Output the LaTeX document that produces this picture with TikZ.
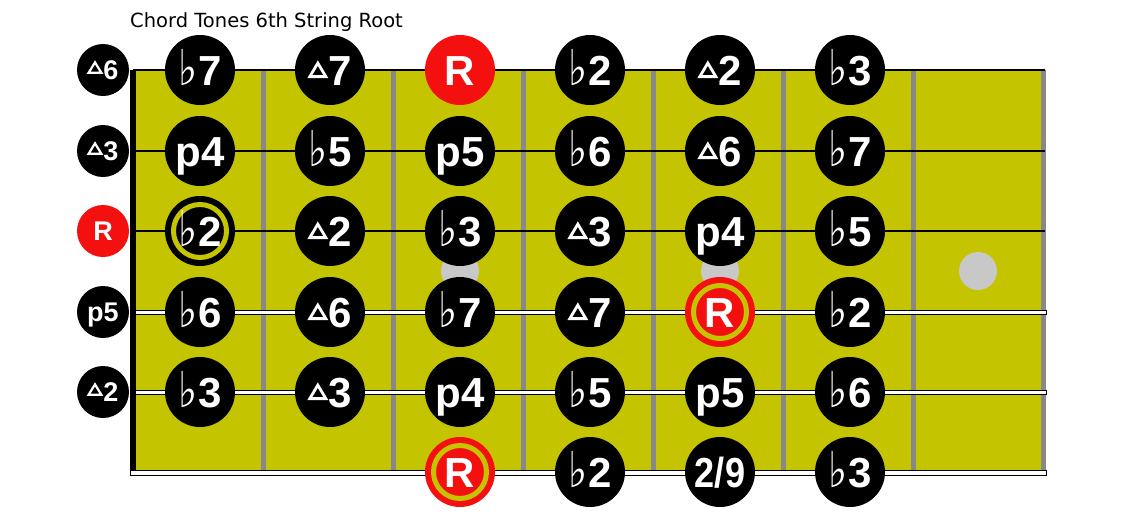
\documentclass[tikz,border=0pt]{standalone}
\usepackage{fontspec}
\setmainfont{Liberation Sans}
\newfontfamily\djv{DejaVu Sans}
\definecolor{board}{RGB}{196,196,0}
\definecolor{fretgray}{RGB}{136,136,136}
\definecolor{dotgray}{RGB}{200,200,200}
\definecolor{rootred}{RGB}{245,16,16}
\newcommand{\fl}{\smash{\scalebox{0.78}[0.95]{\djv\mdseries\fontsize{52}{52}\selectfont ♭}}\kern1pt}
\newcommand{\tri}{\raisebox{7pt}{\tikz[x=1pt,y=1pt]\draw[white,line width=2.8pt,line join=miter] (1.5,1.5)--(17.5,1.5)--(9.5,15)--cycle;}\kern1pt}
\newcommand{\stri}{\raisebox{6pt}{\tikz[x=1pt,y=1pt]\draw[white,line width=2.2pt,line join=miter] (1.2,1.2)--(13.8,1.2)--(7.5,11.5)--cycle;}\kern1pt}
\tikzset{
  tone/.style={circle, fill=black, minimum size=70pt, inner sep=0pt, text=white,
    text height=30pt, text depth=0pt,
    font=\bfseries\fontsize{42}{42}\selectfont},
  root/.style={tone, fill=rootred},
  ringtone/.style={tone, path picture={\draw[board, line width=5pt] (path picture bounding box.center) circle (26.5pt);}},
  ringroot/.style={root, path picture={\draw[board, line width=5pt] (path picture bounding box.center) circle (26.5pt);}},
  side/.style={circle, fill=black, minimum size=52pt, inner sep=0pt, text=white,
    text height=19.5pt, text depth=0pt,
    font=\bfseries\fontsize{27}{27}\selectfont},
  sideroot/.style={side, fill=rootred},
  inlay/.style={circle, fill=dotgray, minimum size=38pt, inner sep=0pt},
  fret/.style={fill=fretgray},
  wirestr/.style={line width=1.2pt},
  wirewide/.style={fill=white, draw=black, line width=0.9pt},
}
\begin{document}
\begin{tikzpicture}[x=1pt,y=-1pt]
\useasboundingbox (0,0) rectangle (1121,512);
% title
\node[anchor=west, inner sep=0pt, font=\djv\fontsize{19.5}{19.5}\selectfont] (title) at (130,22) {Chord Tones 6th String Root};
% board
\fill[board] (133,70) rectangle (1045,471);
\foreach \x in {263,393,523,653,783,913,1043} \fill[fret] (\x-2.5,70) rectangle (\x+2.5,471);
\foreach \y in {70,151,231} \draw[wirestr] (133,\y) -- (1045,\y);
\foreach \y in {312,392} \draw[wirewide] (130,\y-2) rectangle (1046,\y+2);
\draw[wirewide] (130,470.5) rectangle (1046,475.5);
\fill[black] (130,70) rectangle (136,471);
% inlays
\node[inlay] (d1) at (460,271) {};
\node[inlay] (d2) at (720,271) {};
\node[inlay] (d3) at (978,271) {};
% side labels
\node[side] (s1) at (103,70) {\stri6};
\node[side] (s2) at (103,151) {\stri3};
\node[sideroot] (s3) at (103,231) {R};
\node[side] (s4) at (103,312) {p5};
\node[side] (s5) at (103,392) {\stri2};
% row 1
\node[tone] (a1) at (200,70) {\fl7};
\node[tone] (a2) at (330,70) {\tri7};
\node[root] (a3) at (460,70) {R};
\node[tone] (a4) at (590,70) {\fl2};
\node[tone] (a5) at (720,70) {\tri2};
\node[tone] (a6) at (850,70) {\fl3};
% row 2
\node[tone] (b1) at (200,151) {p4};
\node[tone] (b2) at (330,151) {\fl5};
\node[tone] (b3) at (460,151) {p5};
\node[tone] (b4) at (590,151) {\fl6};
\node[tone] (b5) at (720,151) {\tri6};
\node[tone] (b6) at (850,151) {\fl7};
% row 3
\node[ringtone] (c1) at (200,231) {\fl2};
\node[tone] (c2) at (330,231) {\tri2};
\node[tone] (c3) at (460,231) {\fl3};
\node[tone] (c4) at (590,231) {\tri3};
\node[tone] (c5) at (720,231) {p4};
\node[tone] (c6) at (850,231) {\fl5};
% row 4
\node[tone] (e1) at (200,312) {\fl6};
\node[tone] (e2) at (330,312) {\tri6};
\node[tone] (e3) at (460,312) {\fl7};
\node[tone] (e4) at (590,312) {\tri7};
\node[ringroot] (e5) at (720,312) {R};
\node[tone] (e6) at (850,312) {\fl2};
% row 5
\node[tone] (f1) at (200,392) {\fl3};
\node[tone] (f2) at (330,392) {\tri3};
\node[tone] (f3) at (460,392) {p4};
\node[tone] (f4) at (590,392) {\fl5};
\node[tone] (f5) at (720,392) {p5};
\node[tone] (f6) at (850,392) {\fl6};
% row 6
\node[ringroot] (g3) at (460,472) {R};
\node[tone] (g4) at (590,472) {\fl2};
\node[tone] (g5) at (720,472) {\scalebox{0.86}[1]{2/9}};
\node[tone] (g6) at (850,472) {\fl3};
\end{tikzpicture}
\end{document}
